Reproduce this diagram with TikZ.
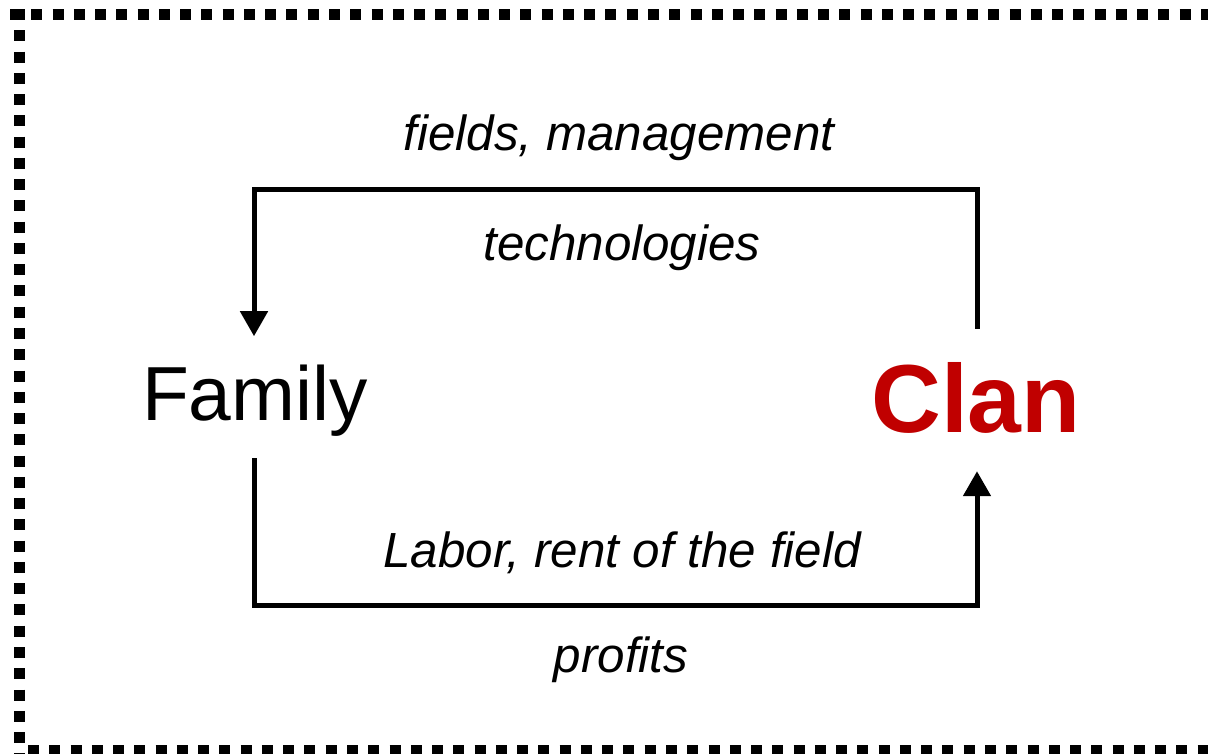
\documentclass[tikz,border=0pt]{standalone}
\usepackage{fontspec}
\setmainfont{Liberation Sans}
\usetikzlibrary{arrows.meta,calc}
\definecolor{clanred}{RGB}{192,0,0}
\begin{document}
\begin{tikzpicture}[x=0.75pt,y=-0.75pt,
  frame/.style={line width=8.25pt,dash pattern=on 8.25pt off 7.7pt},
  conn/.style={line width=3.75pt,-{Triangle[width=20.25pt,length=18.75pt]}},
  lbl/.style={font=\fontsize{37pt}{40pt}\selectfont\itshape,anchor=base,inner sep=0pt},
  big/.style={anchor=base,inner sep=0pt}]
\useasboundingbox (0,0) rectangle (1208,754);
\clip (0,0) rectangle (1208,754);
% dotted frame
\draw[frame] (10,14) -- (1230,14);
\draw[frame] (19,9) -- (19,760);
\draw[frame] (28,750) -- (1230,750);
% main nodes
\node[big,font=\fontsize{57.5pt}{62pt}\selectfont] (fam) at (255,420) {Family};
\node[big,font=\fontsize{72.5pt}{78pt}\selectfont\bfseries,text=clanred] (clan) at (976,432) {Clan};
% labels
\node[lbl] (l1) at (619,150) {fields, management};
\node[lbl] (l2) at (622,260) {technologies};
\node[lbl] (l3) at (622,567) {Labor, rent of the field};
\node[lbl] (l4) at (621,672) {profits};
% connector ends
\coordinate (cs) at ($(clan.north)+(1,-33)$);
\coordinate (fe) at ($(fam.north)+(-1,-28)$);
\coordinate (fs) at ($(fam.south)+(-1,22)$);
\coordinate (ce) at ($(clan.south)+(1,38)$);
% connectors
\draw[conn] (cs) -- (cs |- 0,189) -| (fe);
\draw[conn] (fs) -- (fs |- 0,605) -| (ce);
\end{tikzpicture}
\end{document}
